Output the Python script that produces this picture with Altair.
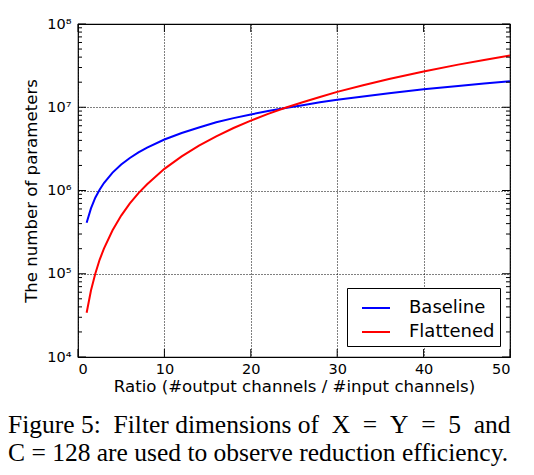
import altair as alt
import pandas as pd

ratio = [1, 1.5, 2, 2.5, 3, 4, 5, 6, 7, 8, 10, 12, 14, 16, 18, 20, 22, 24, 26, 28, 30, 33, 36, 40, 44, 47, 50]
baseline = [4.1e5, 6.1e5, 8.2e5, 1.02e6, 1.23e6, 1.64e6, 2.05e6, 2.46e6, 2.87e6, 3.28e6, 4.1e6, 4.9e6,
            5.7e6, 6.6e6, 7.4e6, 8.2e6, 9.0e6, 9.8e6, 1.06e7, 1.15e7, 1.23e7, 1.35e7, 1.47e7, 1.64e7,
            1.8e7, 1.93e7, 2.05e7]
flattened = [3.4e4, 6.3e4, 1.0e5, 1.47e5, 2.0e5, 3.33e5, 5.0e5, 7.0e5, 9.3e5, 1.19e6, 1.82e6, 2.57e6,
             3.46e6, 4.48e6, 5.63e6, 6.91e6, 8.32e6, 9.86e6, 1.15e7, 1.33e7, 1.53e7, 1.84e7, 2.19e7,
             2.69e7, 3.25e7, 3.70e7, 4.18e7]
series_names = ["Baseline", "Flattened"]
series_colors = ["#0000ff", "#ff0000"]
x_ticks = [0, 10, 20, 30, 40, 50]
y_major = [1e4, 1e5, 1e6, 1e7, 1e8]
y_minor = [m * 10 ** k for k in range(4, 8) for m in range(2, 10)]
S = "\u00a0"
caption = [f"Figure 5:{S} Filter dimensions of {S}X{S}{S}={S}{S}Y{S}{S}={S}{S}5{S} and",
           "C = 128 are used to observe reduction efficiency."]

W, H = 432, 333

rows = []
for r, b, f in zip(ratio, baseline, flattened):
    rows.append({"ratio": r, "params": b, "series": "Baseline"})
    rows.append({"ratio": r, "params": f, "series": "Flattened"})
df = pd.DataFrame(rows)

xscale = alt.Scale(domain=[0, 50], nice=False, zero=False)
yscale = alt.Scale(type="log", domain=[1e4, 1e8], nice=False)

axis_style = dict(grid=True, gridColor="black", gridDash=[1, 2], gridOpacity=1, ticks=False,
                  domain=False, labelFont="DejaVu Sans", labelFontSize=14.5, labelColor="black",
                  titleFont="DejaVu Sans", titleFontSize=16.6, titleFontWeight="normal",
                  titleColor="black")
xaxis = alt.Axis(values=x_ticks, title="Ratio (#output channels / #input channels)",
                 labelPadding=5, titlePadding=3, **axis_style)
yaxis = alt.Axis(values=y_major, title="The number of parameters",
                 labelExpr="'10' + ['⁴','⁵','⁶','⁷','⁸'][round(log(datum.value)/LN10)-4]",
                 labelPadding=7, titlePadding=7, **axis_style)

lines = alt.Chart(df).mark_line(strokeWidth=2, clip=True).encode(
    x=alt.X("ratio:Q", scale=xscale, axis=xaxis),
    y=alt.Y("params:Q", scale=yscale, axis=yaxis),
    color=alt.Color("series:N", scale=alt.Scale(domain=series_names, range=series_colors),
                    legend=alt.Legend(title=None, orient="none", legendX=269, legendY=264,
                                      symbolType="stroke", symbolStrokeWidth=2, symbolSize=784,
                                      symbolOffset=9,
                                      labelFontSize=18, labelFont="DejaVu Sans", labelColor="black",
                                      fillColor="white", strokeColor="black",
                                      padding=5, rowPadding=0, labelOffset=18)),
)

ymaj = pd.DataFrame({"v": y_major})
ymin = pd.DataFrame({"v": y_minor})
xmaj = pd.DataFrame({"v": x_ticks})


def yticks(data, length):
    left = alt.Chart(data).mark_rule(color="black", strokeWidth=1).encode(
        y=alt.Y("v:Q", scale=yscale, axis=yaxis), x=alt.value(0), x2=alt.value(length))
    right = alt.Chart(data).mark_rule(color="black", strokeWidth=1).encode(
        y=alt.Y("v:Q", scale=yscale, axis=yaxis), x=alt.value(W), x2=alt.value(W - length))
    return [left, right]


xb = alt.Chart(xmaj).mark_rule(color="black", strokeWidth=1).encode(
    x=alt.X("v:Q", scale=xscale, axis=xaxis), y=alt.value(H), y2=alt.value(H - 8))
xt = alt.Chart(xmaj).mark_rule(color="black", strokeWidth=1).encode(
    x=alt.X("v:Q", scale=xscale, axis=xaxis), y=alt.value(0), y2=alt.value(8))

chart = alt.layer(lines, *yticks(ymaj, 8), *yticks(ymin, 4), xb, xt).properties(
    width=W, height=H,
    background="white",
    autosize=alt.AutoSizeParams(type="none"),
    padding={"left": 70, "top": 16, "right": 16, "bottom": 110},
    title=alt.TitleParams(text=caption, orient="bottom", anchor="start", frame="group",
                          font="Liberation Serif", fontSize=25.5, fontWeight="normal",
                          color="black", dx=-70, offset=18, lineHeight=28),
).configure_view(stroke="black", strokeWidth=1.2, strokeOpacity=1)

chart.save("out.html", embed_options={"renderer": "svg", "actions": False})
